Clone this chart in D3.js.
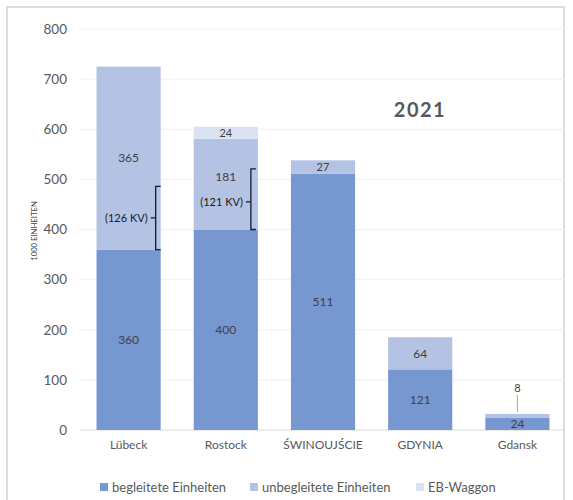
<!DOCTYPE html>
<html lang="de">
<head>
<meta charset="UTF-8">
<title>2021</title>
<script src="https://d3js.org/d3.v7.min.js"></script>
<style>
  body { margin: 0; background: #fff; }
  text { font-family: Lato, "Open Sans", sans-serif; }
</style>
</head>
<body>
<script>
// chart data
var ports = ['Lübeck', 'Rostock', 'ŚWINOUJŚCIE', 'GDYNIA', 'Gdansk'];
var begleitet = [360, 400, 511, 121, 24];
var unbegleitet = [365, 181, 27, 64, 8];
var ebWaggon = [0, 24, 0, 0, 0];
var kv = [126, 121, null, null, null];
var yTicks = [0, 100, 200, 300, 400, 500, 600, 700, 800];
var seriesNames = ['begleitete Einheiten', 'unbegleitete Einheiten', 'EB-Waggon'];
var colors = ['#7797d0', '#b4c3e4', '#dae2f2'];

var width = 573, height = 500;
var svg = d3.select('body').append('svg')
    .attr('width', width)
    .attr('height', height);

// frame
svg.append('rect')
    .attr('x', 7).attr('y', 7)
    .attr('width', 557).attr('height', 495)
    .attr('fill', 'none')
    .attr('stroke', '#dcdcdc')
    .attr('stroke-width', 2);

var x = d3.scaleBand().domain(ports).range([80, 566]).paddingInner(0.34).paddingOuter(0.17);
var y = d3.scaleLinear().domain([0, 800]).range([430, 29]);

// grid
svg.append('g').selectAll('line')
    .data(yTicks)
    .enter().append('line')
    .attr('x1', 80).attr('x2', 565)
    .attr('y1', function (d) { return y(d); })
    .attr('y2', function (d) { return y(d); })
    .attr('stroke', function (d) { return d == 0 ? '#d9d9d9' : '#f0f0f0'; })
    .attr('stroke-width', 1);

// y axis
var yAxis = svg.append('g')
    .attr('transform', 'translate(67,0)')
    .call(d3.axisLeft(y).tickValues(yTicks).tickSize(0).tickPadding(0));
yAxis.select('.domain').remove();
yAxis.selectAll('text')
    .attr('fill', '#595959')
    .style('font-family', 'Lato, sans-serif')
    .style('font-size', '13.5px');

svg.append('text')
    .attr('transform', 'translate(37,231) rotate(-90)')
    .attr('text-anchor', 'middle')
    .attr('fill', '#404040')
    .style('font-size', '7.7px')
    .text('1000 EINHEITEN');

// stacked bars
var rows = ports.map(function (p, i) {
    return { port: p, b: begleitet[i], u: unbegleitet[i], e: ebWaggon[i] };
});
var stack = d3.stack().keys(['b', 'u', 'e'])(rows);

var layers = svg.append('g').selectAll('g')
    .data(stack)
    .enter().append('g')
    .attr('fill', function (d, i) { return colors[i]; });

layers.selectAll('rect')
    .data(function (d) { return d; })
    .enter().append('rect')
    .attr('x', function (d) { return x(d.data.port); })
    .attr('width', x.bandwidth())
    .attr('y', function (d) { return y(d[1]); })
    .attr('height', function (d) { return y(d[0]) - y(d[1]); });

// value labels
var labels = svg.append('g')
    .attr('fill', '#404040')
    .attr('text-anchor', 'middle');

stack.forEach(function (layer, li) {
    layer.forEach(function (d, i) {
        var v = d[1] - d[0];
        if (v <= 0) return;
        var cx = x(d.data.port) + x.bandwidth() / 2;
        var cy = y((d[0] + d[1]) / 2);
        if (d.data.port == 'Gdansk' && li == 1) {
            // small segment: label above with leader line
            cy = y(d[1]) - 26;
            svg.append('line')
                .attr('x1', cx).attr('x2', cx)
                .attr('y1', cy + 7).attr('y2', y(d[1]) - 2)
                .attr('stroke', '#a6a6a6');
        }
        if (d.data.port == 'Rostock' && li == 1) cy -= 7;
        labels.append('text')
            .attr('x', cx)
            .attr('y', cy)
            .attr('dy', '0.35em')
            .style('font-size', (li == 0 || v > 50) ? '12px' : '11px')
            .text(v);
    });
});

// KV brackets
kv.forEach(function (k, i) {
    if (k == null) return;
    var bx = x(ports[i]) + x.bandwidth() - (i == 0 ? 5 : 7);
    var y0 = y(begleitet[i]);
    var y1 = y(begleitet[i] + k);
    var ym = i == 0 ? (y0 + y1) / 2 : y1 + 33;
    var path = 'M' + (bx + 5) + ',' + y1 + 'H' + bx + 'V' + y0 + 'H' + (bx + 5) +
        'M' + bx + ',' + ym + 'H' + (bx - 5);
    svg.append('path')
        .attr('d', path)
        .attr('fill', 'none')
        .attr('stroke', '#1a1a2e')
        .attr('stroke-width', 1.3);
    svg.append('text')
        .attr('x', bx - 8)
        .attr('y', ym)
        .attr('dy', '0.35em')
        .attr('text-anchor', 'end')
        .attr('fill', '#1a1a1a')
        .style('font-size', '11px')
        .text('(' + k + ' KV)');
});

// x labels
svg.append('g').selectAll('text')
    .data(ports)
    .enter().append('text')
    .attr('x', function (d) { return x(d) + x.bandwidth() / 2; })
    .attr('y', 449)
    .attr('text-anchor', 'middle')
    .attr('fill', '#595959')
    .style('font-size', '12px')
    .text(function (d) { return d; });

// title
svg.append('text')
    .attr('x', 420).attr('y', 117)
    .attr('text-anchor', 'middle')
    .attr('fill', '#595959')
    .style('font-size', '20px')
    .style('font-weight', 'bold')
    .style('letter-spacing', '1.5px')
    .text('2021');

// legend
var legendX = [100, 250, 416];
var legend = svg.append('g').selectAll('g')
    .data(seriesNames)
    .enter().append('g')
    .attr('transform', function (d, i) { return 'translate(' + legendX[i] + ',487)'; });
legend.append('rect')
    .attr('x', 0).attr('y', -4)
    .attr('width', 8).attr('height', 8)
    .attr('fill', function (d, i) { return colors[i]; });
legend.append('text')
    .attr('x', 12)
    .attr('y', 0)
    .attr('dy', '0.35em')
    .attr('fill', '#595959')
    .style('font-size', '13px')
    .text(function (d) { return d; });
</script>
</body>
</html>
